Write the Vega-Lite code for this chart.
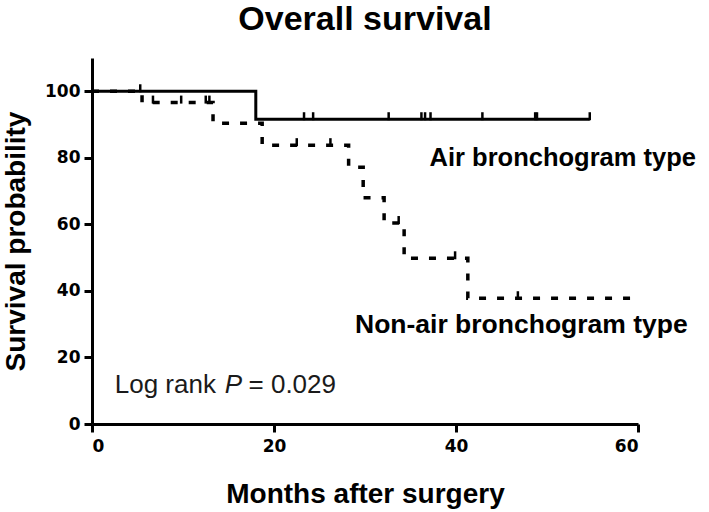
{
  "$schema": "https://vega.github.io/schema/vega-lite/v6.json",
  "autosize": "none",
  "width": 546,
  "height": 366,
  "padding": {"left": 92, "top": 58, "right": 71, "bottom": 88},
  "background": "white",
  "config": {
    "view": {"stroke": null},
    "font": "Liberation Sans"
  },
  "title": {
    "text": "Overall survival",
    "font": "Liberation Sans",
    "fontSize": 34,
    "fontWeight": "bold",
    "color": "black",
    "offset": 21
  },
  "datasets": {
    "curves": [
      {"group": "Air", "months": 0, "surv": 100},
      {"group": "Air", "months": 18, "surv": 91.6},
      {"group": "Air", "months": 54.7, "surv": 91.6},
      {"group": "Non-air", "months": 0, "surv": 100},
      {"group": "Non-air", "months": 5.5, "surv": 96.6},
      {"group": "Non-air", "months": 13.3, "surv": 90.4},
      {"group": "Non-air", "months": 18.7, "surv": 83.8},
      {"group": "Non-air", "months": 28.2, "surv": 77.2},
      {"group": "Non-air", "months": 29.8, "surv": 68},
      {"group": "Non-air", "months": 32.1, "surv": 60.4},
      {"group": "Non-air", "months": 34.3, "surv": 49.8},
      {"group": "Non-air", "months": 41.3, "surv": 37.8},
      {"group": "Non-air", "months": 59.9, "surv": 37.8}
    ],
    "censors": [
      {"group": "Air", "months": 5.3, "surv": 100},
      {"group": "Air", "months": 23.3, "surv": 91.6},
      {"group": "Air", "months": 24.3, "surv": 91.6},
      {"group": "Air", "months": 32.6, "surv": 91.6},
      {"group": "Air", "months": 36.2, "surv": 91.6},
      {"group": "Air", "months": 36.6, "surv": 91.6},
      {"group": "Air", "months": 37.2, "surv": 91.6},
      {"group": "Air", "months": 42.9, "surv": 91.6},
      {"group": "Air", "months": 48.7, "surv": 91.6},
      {"group": "Air", "months": 48.9, "surv": 91.6},
      {"group": "Air", "months": 54.7, "surv": 91.6},
      {"group": "Non-air", "months": 6.7, "surv": 96.6},
      {"group": "Non-air", "months": 9.8, "surv": 96.6},
      {"group": "Non-air", "months": 12.5, "surv": 96.6},
      {"group": "Non-air", "months": 12.9, "surv": 96.6},
      {"group": "Non-air", "months": 22.5, "surv": 83.8},
      {"group": "Non-air", "months": 26.2, "surv": 83.8},
      {"group": "Non-air", "months": 33.7, "surv": 60.4},
      {"group": "Non-air", "months": 39.9, "surv": 49.8},
      {"group": "Non-air", "months": 46.8, "surv": 37.8}
    ],
    "labels": [
      {"label": "Air bronchogram type", "months": 37.1, "surv": 80},
      {"label": "Non-air bronchogram type", "months": 28.9, "surv": 29.8}
    ],
    "logrank": [
      {"label": "Log rank", "months": 2.5, "surv": 11.7, "style": "normal"},
      {"label": "P", "months": 14.6, "surv": 11.7, "style": "italic"},
      {"label": "= 0.029", "months": 17.2, "surv": 11.7, "style": "normal"}
    ]
  },
  "encoding": {
    "x": {
      "field": "months",
      "type": "quantitative",
      "scale": {"domain": [0, 60], "nice": false, "zero": false},
      "axis": {
        "title": "Months after surgery",
        "values": [0, 20, 40, 60],
        "grid": false,
        "domainColor": "black",
        "domainWidth": 3,
        "tickColor": "black",
        "tickWidth": 3,
        "tickSize": 8,
        "labelFont": "DejaVu Sans",
        "labelFontWeight": "bold",
        "labelFontSize": 17,
        "labelColor": "black",
        "labelPadding": 6,
        "titleFont": "Liberation Sans",
        "titleFontSize": 28,
        "titleFontWeight": "bold",
        "titleColor": "black",
        "titlePadding": 26
      }
    },
    "y": {
      "field": "surv",
      "type": "quantitative",
      "scale": {"domain": [0, 110], "nice": false, "zero": false},
      "axis": {
        "title": "Survival probability",
        "values": [0, 20, 40, 60, 80, 100],
        "grid": false,
        "domainColor": "black",
        "domainWidth": 3,
        "tickColor": "black",
        "tickWidth": 3,
        "tickSize": 8,
        "labelFont": "DejaVu Sans",
        "labelFontWeight": "bold",
        "labelFontSize": 17,
        "labelColor": "black",
        "labelPadding": 4,
        "titleFont": "Liberation Sans",
        "titleFontSize": 28,
        "titleFontWeight": "bold",
        "titleColor": "black",
        "titlePadding": 14
      }
    }
  },
  "layer": [
    {
      "data": {"name": "curves"},
      "transform": [{"filter": "datum.group === 'Air'"}],
      "mark": {"type": "line", "interpolate": "step-after", "color": "black", "strokeWidth": 3},
      "encoding": {}
    },
    {
      "data": {"name": "curves"},
      "transform": [{"filter": "datum.group === 'Non-air'"}],
      "mark": {"type": "line", "interpolate": "step-after", "color": "black", "strokeWidth": 3.5, "strokeDash": [7, 11]},
      "encoding": {}
    },
    {
      "data": {"name": "censors"},
      "mark": {"type": "tick", "orient": "vertical", "color": "black", "opacity": 1, "size": 8, "thickness": 2.5, "yOffset": -3},
      "encoding": {}
    },
    {
      "data": {"name": "labels"},
      "transform": [{"filter": "datum.label === 'Air bronchogram type'"}],
      "mark": {"type": "text", "align": "left", "baseline": "middle", "font": "Liberation Sans", "fontSize": 25.5, "fontWeight": "bold", "color": "black"},
      "encoding": {"text": {"field": "label"}}
    },
    {
      "data": {"name": "labels"},
      "transform": [{"filter": "datum.label !== 'Air bronchogram type'"}],
      "mark": {"type": "text", "align": "left", "baseline": "middle", "font": "Liberation Sans", "fontSize": 26.5, "fontWeight": "bold", "color": "black"},
      "encoding": {"text": {"field": "label"}}
    },
    {
      "data": {"name": "logrank"},
      "transform": [{"filter": "datum.style === 'normal'"}],
      "mark": {"type": "text", "align": "left", "baseline": "middle", "font": "Liberation Sans", "fontSize": 26, "color": "#1a1a1a"},
      "encoding": {"text": {"field": "label"}}
    },
    {
      "data": {"name": "logrank"},
      "transform": [{"filter": "datum.style === 'italic'"}],
      "mark": {"type": "text", "align": "left", "baseline": "middle", "font": "Liberation Sans", "fontSize": 26, "fontStyle": "italic", "color": "#1a1a1a"},
      "encoding": {"text": {"field": "label"}}
    }
  ]
}
